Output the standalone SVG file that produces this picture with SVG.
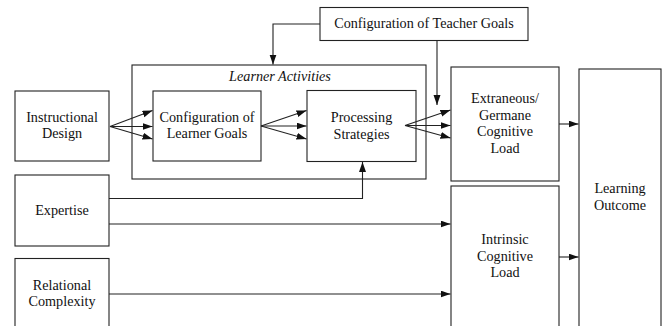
<svg xmlns="http://www.w3.org/2000/svg" width="668" height="326" viewBox="0 0 668 326">
<style>
.box{fill:#fff;stroke:#222;stroke-width:1.1}
.t{font-family:"Liberation Serif","Times New Roman",serif;font-size:14.2px;fill:#111;text-anchor:middle}
.it{font-style:italic}
.c{fill:none;stroke:#222;stroke-width:1.1}
</style>
<defs>
<marker id="ah" markerUnits="userSpaceOnUse" markerWidth="11" markerHeight="8" refX="10" refY="3.5" orient="auto">
<path d="M0,0 L10,3.5 L0,7 z" fill="#111"/>
</marker>
</defs>
<rect width="668" height="326" fill="#fff"/>
<g id="activities"><rect class="box" x="132" y="65" width="294" height="114"/><text class="t it" x="280" y="81">Learner Activities</text></g>
<g id="design"><rect class="box" x="15" y="91" width="94" height="70"/><text class="t" x="62" y="122">Instructional</text><text class="t" x="62" y="138">Design</text></g>
<g id="expertise"><rect class="box" x="15" y="175" width="94" height="71"/><text class="t" x="62" y="215">Expertise</text></g>
<g id="relational"><rect class="box" x="15" y="258.5" width="94" height="80"/><text class="t" x="62" y="290">Relational</text><text class="t" x="62" y="306">Complexity</text></g>
<g id="learnergoals"><rect class="box" x="153" y="91" width="108" height="70"/><text class="t" x="207" y="122">Configuration of</text><text class="t" x="207" y="138">Learner Goals</text></g>
<g id="processing"><rect class="box" x="307" y="90.5" width="109" height="71"/><text class="t" x="361.5" y="122">Processing</text><text class="t" x="361.5" y="139">Strategies</text></g>
<g id="teacher"><rect class="box" x="320" y="7.5" width="208" height="33"/><text class="t" x="424" y="28">Configuration of Teacher Goals</text></g>
<g id="extraneous"><rect class="box" x="451" y="67" width="108" height="114"/><text class="t" x="505" y="103">Extraneous/</text><text class="t" x="505" y="119.5">Germane</text><text class="t" x="505" y="136">Cognitive</text><text class="t" x="505" y="152.5">Load</text></g>
<g id="intrinsic"><rect class="box" x="451" y="186" width="108" height="150"/><text class="t" x="505" y="244">Intrinsic</text><text class="t" x="505" y="260.5">Cognitive</text><text class="t" x="505" y="277">Load</text></g>
<g id="outcome"><rect class="box" x="579" y="69" width="82" height="270"/><text class="t" x="620" y="193">Learning</text><text class="t" x="620" y="210">Outcome</text></g>
<g id="connectors">
<path class="c" marker-end="url(#ah)" d="M110,126.5 L152.5,110.5"/>
<path class="c" marker-end="url(#ah)" d="M110,126.5 L152.5,126.5"/>
<path class="c" marker-end="url(#ah)" d="M110,126.5 L152.5,139"/>
<path class="c" marker-end="url(#ah)" d="M261,126 L306.5,110.5"/>
<path class="c" marker-end="url(#ah)" d="M261,126 L306.5,126"/>
<path class="c" marker-end="url(#ah)" d="M261,126 L306.5,139"/>
<path class="c" marker-end="url(#ah)" d="M405,125.5 L450.5,110"/>
<path class="c" marker-end="url(#ah)" d="M405,125.5 L450.5,125.5"/>
<path class="c" marker-end="url(#ah)" d="M405,125.5 L450.5,138"/>
<path class="c" marker-end="url(#ah)" d="M320,24 H273 V64.5"/>
<path class="c" marker-end="url(#ah)" d="M437,40.5 V105"/>
<path class="c" marker-end="url(#ah)" d="M109,198.5 H362.5 V162"/>
<path class="c" marker-end="url(#ah)" d="M109,224 H450.5"/>
<path class="c" marker-end="url(#ah)" d="M109,294 H450.5"/>
<path class="c" marker-end="url(#ah)" d="M559,124 H578.5"/>
<path class="c" marker-end="url(#ah)" d="M559,257 H578.5"/>
</g>
</svg>
